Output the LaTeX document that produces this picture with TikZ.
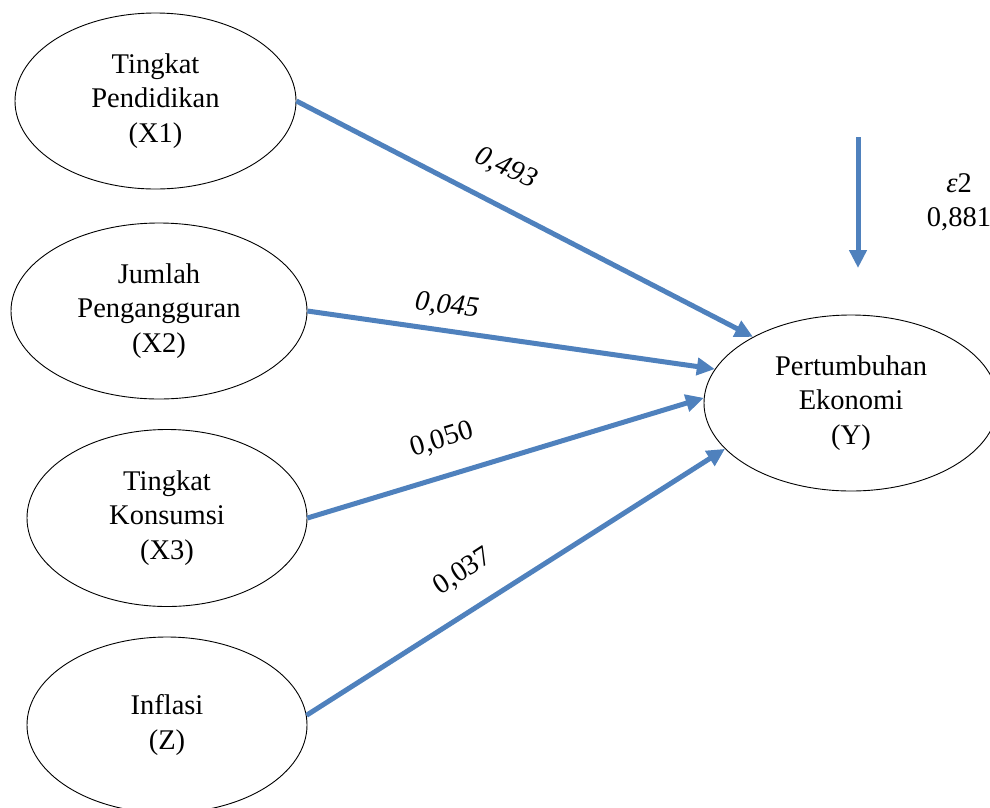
\documentclass[tikz,border=0pt]{standalone}
\usepackage{fontspec}
\setmainfont{Liberation Serif}
\usetikzlibrary{shapes.geometric,arrows.meta}
\definecolor{arrowblue}{RGB}{79,129,189}
\tikzset{
  var/.style={ellipse, draw=black, line width=0.9pt, inner sep=0pt, align=center,
    font=\fontsize{28.5}{34.5}\selectfont},
  path/.style={draw=arrowblue, line width=5pt, -{Triangle[length=18pt,width=17pt]}},
  coef/.style={font=\fontsize{28.5}{34}\selectfont, inner sep=0pt},
}
\begin{document}
\begin{tikzpicture}[x=1pt,y=-1pt]
\clip (0,0) rectangle (990,807);
\node[var, minimum width=281pt, minimum height=176pt] (X1) at (155.5,101) {Tingkat\\Pendidikan\\(X1)};
\node[var, minimum width=296pt, minimum height=176pt] (X2) at (159,311) {Jumlah\\Pengangguran\\(X2)};
\node[var, minimum width=280pt, minimum height=177pt] (X3) at (167,518) {Tingkat\\Konsumsi\\(X3)};
\node[var, minimum width=280pt, minimum height=176pt] (Z) at (167,725) {Inflasi\\(Z)};
\node[var, minimum width=294pt, minimum height=176pt] (Y) at (851,403) {Pertumbuhan\\Ekonomi\\(Y)};
\coordinate (e1) at (858,137);
\coordinate (e2) at (858,268);
\draw[path] (X1.east) -- (Y.146.7);
\draw[path] (X2.east) -- (Y.166.8);
\draw[path] (X3.east) -- (Y.178);
\draw[path] (Z.4) -- (Y.200);
\draw[path] (e1) -- (e2);
\node[coef, rotate=-25] (c1) at (506,168) {\itshape 0,493};
\node[coef, rotate=-6] (c2) at (447,306) {\itshape 0,045};
\node[coef, rotate=17] (c3) at (442,440) {0,050};
\node[coef, rotate=33] (c4) at (463,572) {0,037};
\node[coef, align=center] (eps) at (959,202) {{\itshape ε}2\\0,881};
\end{tikzpicture}
\end{document}
